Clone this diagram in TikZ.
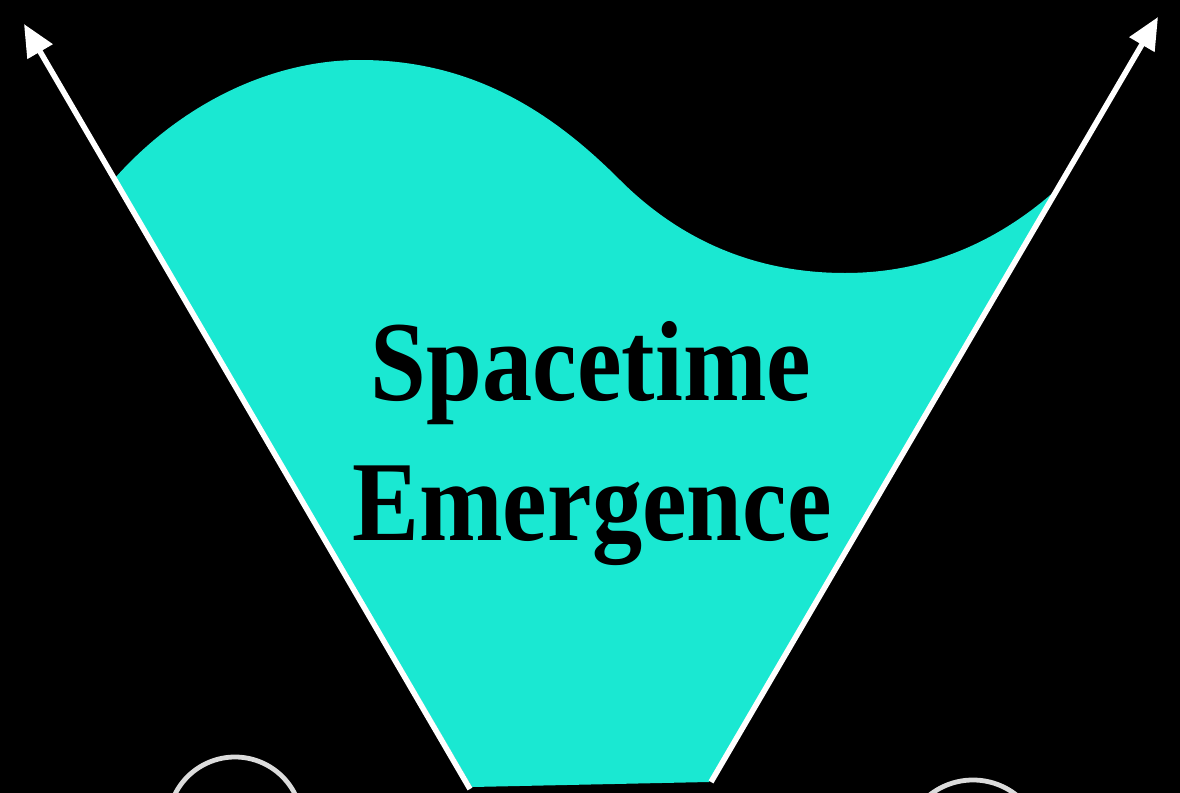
\documentclass[tikz,border=0pt]{standalone}
\usepackage{fontspec}
\newfontfamily\titlefont{Liberation Serif}
\usepackage{xcolor}
\definecolor{cyanRegion}{RGB}{26,232,210}
\definecolor{ringGray}{RGB}{220,220,220}
\usetikzlibrary{arrows.meta}
\tikzset{
  region/.style={fill=cyanRegion},
  worldline/.style={-{Triangle[length=16pt,width=14pt]}, line width=2.8pt, white},
  ring/.style={circle, draw=ringGray, line width=2.4pt, inner sep=0pt},
  title/.style={font=\titlefont\bfseries\fontsize{57}{70}\selectfont,
                xscale=0.88, anchor=base, inner sep=0pt},
}

\begin{document}
\begin{tikzpicture}[x=0.5pt,y=-0.5pt]
  \fill[black] (0,0) rectangle (1180,793);
  \useasboundingbox (0,0) rectangle (1180,793);
  \clip (0,0) rectangle (1180,793);
  % emergent region between the two world lines
  \coordinate (bl) at (472,787);
  \coordinate (br) at (709,782);
  \coordinate (tl) at (115,178);
  \coordinate (tr) at (1056,190);
  \fill[region] (bl) -- (tl) .. controls (180,105) and (270,60) .. (360,60)
     .. controls (480,60) and (560,120) .. (620,180)
     .. controls (690,250) and (770,273) .. (845,273)
     .. controls (930,273) and (1000,240) .. (tr) -- (br) -- cycle;
  % world lines
  \coordinate (sl) at (470,789);
  \coordinate (el) at (24,24);
  \coordinate (sr) at (711,782);
  \coordinate (er) at (1158,17);
  \draw[worldline] (sl) -- (el);
  \draw[worldline] (sr) -- (er);
  % label
  \node[title] (line1) at (591,400) {Spacetime};
  \node[title] (line2) at (592,540) {Emergence};
  % rings at the bottom edge
  \node[ring, minimum size=67pt] (ringl) at (235,824) {};
  \node[ring, minimum size=70pt] (ringr) at (973,850) {};
\end{tikzpicture}
\end{document}
